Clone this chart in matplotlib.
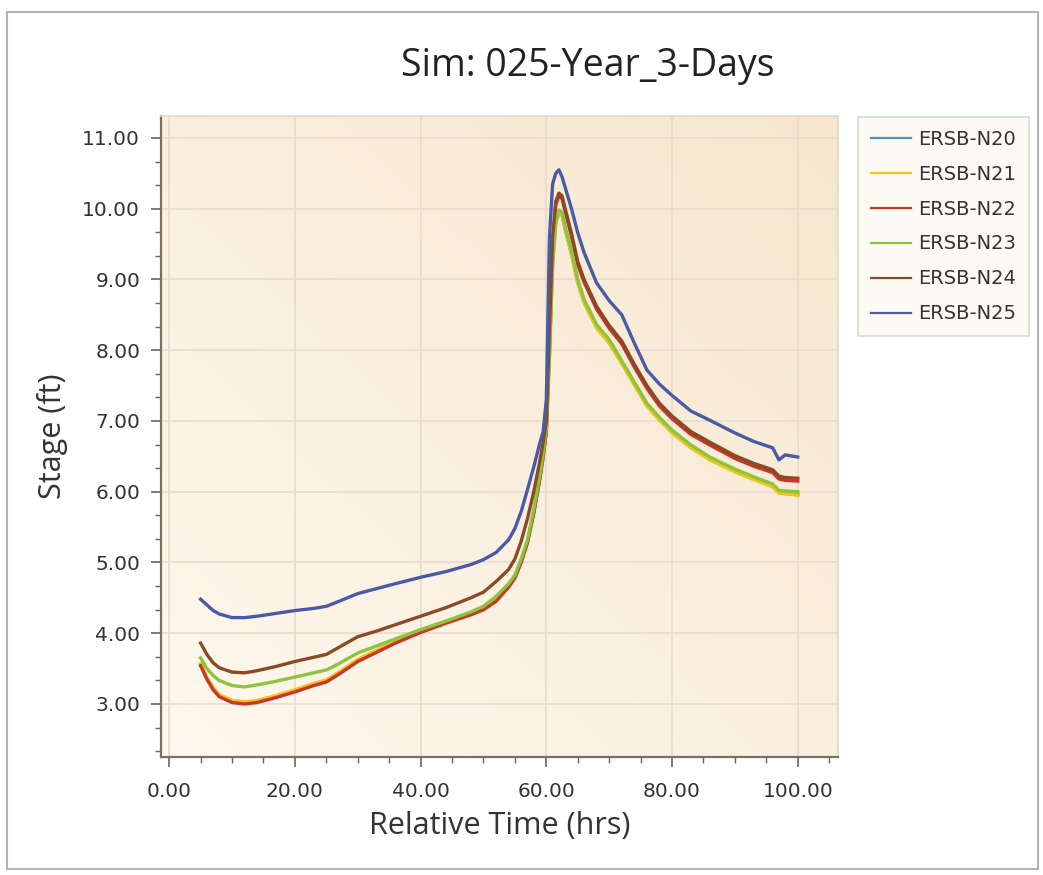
import numpy as np
import matplotlib.pyplot as plt
from matplotlib.patches import Rectangle
from matplotlib.ticker import MultipleLocator, FormatStrFormatter

# Time axis (hrs)
time_hrs = [5, 6, 7, 8, 10, 12, 14, 17, 20, 23, 25, 27, 30, 33, 36, 40, 44, 48,
            50, 52, 54, 55, 56, 57, 58, 59, 59.5, 60, 60.5, 61, 61.5, 62, 62.5,
            63, 64, 65, 66, 68, 70, 72, 74, 76, 78, 80, 83, 86, 90, 93, 96, 97,
            98, 100]

# Stage (ft) per node
n20 = [3.56, 3.37, 3.22, 3.12, 3.04, 3.02, 3.04, 3.11, 3.19, 3.28, 3.33, 3.44,
       3.62, 3.75, 3.88, 4.03, 4.16, 4.28, 4.35, 4.47, 4.66, 4.79, 5.01, 5.29,
       5.70, 6.20, 6.50, 6.84, 7.90, 9.20, 9.80, 9.94, 9.91, 9.71, 9.36, 8.96,
       8.68, 8.32, 8.11, 7.82, 7.52, 7.22, 7.02, 6.84, 6.63, 6.46, 6.29, 6.18,
       6.08, 5.99, 5.98, 5.96]
n21 = [3.57, 3.38, 3.23, 3.13, 3.05, 3.03, 3.05, 3.12, 3.20, 3.29, 3.34, 3.45,
       3.63, 3.76, 3.89, 4.04, 4.17, 4.29, 4.36, 4.48, 4.67, 4.80, 5.02, 5.30,
       5.72, 6.22, 6.52, 6.86, 7.95, 9.25, 9.82, 9.95, 9.91, 9.71, 9.35, 8.95,
       8.67, 8.31, 8.10, 7.81, 7.51, 7.21, 7.01, 6.83, 6.62, 6.45, 6.28, 6.17,
       6.07, 5.98, 5.97, 5.95]
n22 = [3.54, 3.35, 3.20, 3.10, 3.02, 3.00, 3.02, 3.09, 3.17, 3.26, 3.31, 3.42,
       3.60, 3.73, 3.86, 4.01, 4.14, 4.26, 4.33, 4.45, 4.65, 4.78, 5.00, 5.28,
       5.70, 6.20, 6.50, 6.85, 8.10, 9.50, 10.05, 10.18, 10.14, 9.96, 9.61,
       9.21, 8.96, 8.58, 8.31, 8.09, 7.76, 7.46, 7.21, 7.03, 6.81, 6.66, 6.47,
       6.36, 6.27, 6.18, 6.16, 6.15]
n23 = [3.65, 3.50, 3.40, 3.33, 3.26, 3.24, 3.27, 3.32, 3.38, 3.44, 3.48, 3.57,
       3.72, 3.82, 3.92, 4.05, 4.17, 4.30, 4.38, 4.52, 4.70, 4.82, 5.05, 5.32,
       5.75, 6.25, 6.55, 6.90, 8.00, 9.30, 9.85, 9.98, 9.95, 9.75, 9.40, 9.00,
       8.72, 8.36, 8.15, 7.85, 7.55, 7.25, 7.05, 6.87, 6.66, 6.49, 6.32, 6.21,
       6.11, 6.02, 6.01, 6.00]
n24 = [3.86, 3.70, 3.58, 3.51, 3.45, 3.44, 3.47, 3.53, 3.60, 3.66, 3.70, 3.80,
       3.95, 4.03, 4.12, 4.24, 4.36, 4.50, 4.58, 4.73, 4.90, 5.05, 5.30, 5.62,
       6.00, 6.45, 6.70, 7.00, 8.30, 9.60, 10.10, 10.22, 10.18, 10.00, 9.65,
       9.25, 9.00, 8.62, 8.35, 8.13, 7.80, 7.50, 7.25, 7.07, 6.85, 6.70, 6.51,
       6.40, 6.31, 6.22, 6.20, 6.19]
n25 = [4.48, 4.40, 4.32, 4.27, 4.22, 4.22, 4.24, 4.28, 4.32, 4.35, 4.38, 4.45,
       4.56, 4.63, 4.70, 4.79, 4.87, 4.97, 5.04, 5.14, 5.32, 5.48, 5.72, 6.03,
       6.35, 6.70, 6.85, 7.30, 9.60, 10.35, 10.50, 10.55, 10.45, 10.30, 10.00,
       9.66, 9.38, 8.95, 8.70, 8.50, 8.10, 7.72, 7.52, 7.36, 7.14, 7.01, 6.83,
       6.71, 6.62, 6.45, 6.52, 6.49]

series = {
    "ERSB-N20": (n20, "#4f93b8"),
    "ERSB-N21": (n21, "#f2c418"),
    "ERSB-N22": (n22, "#c8362a"),
    "ERSB-N23": (n23, "#8cc43c"),
    "ERSB-N24": (n24, "#8a4a26"),
    "ERSB-N25": (n25, "#4a5aa6"),
}

W, H = 1043, 875
fig = plt.figure(figsize=(W / 100, H / 100), dpi=100)
fig.patch.set_facecolor("white")

# screenshot frame
fig.add_artist(Rectangle((7 / W, 6 / H), 1031 / W, 857 / H, transform=fig.transFigure,
                         fill=False, edgecolor="#b4b4b4", lw=1.5))

ax = fig.add_axes([161 / W, 1 - 757 / H, (838 - 161) / W, (757 - 116) / H])
xlim = (-1.3, 106.4)
ylim = (2.25, 11.31)

# cream gradient background
gx, gy = np.meshgrid(np.linspace(0, 1, 200), np.linspace(0, 1, 200))
t = (gx + (1 - gy)) / 2
c0 = np.array([0.996, 0.973, 0.933])
c1 = np.array([0.965, 0.902, 0.808])
img = c0[None, None, :] * (1 - t[..., None]) + c1[None, None, :] * t[..., None]
ax.imshow(img, extent=(*xlim, *ylim), aspect="auto", origin="upper", zorder=0)

for name, (vals, col) in series.items():
    ax.plot(time_hrs, vals, color=col, lw=2.4, label=name, zorder=3)

ax.set_xlim(*xlim)
ax.set_ylim(*ylim)

ax.xaxis.set_major_locator(MultipleLocator(20))
ax.xaxis.set_minor_locator(MultipleLocator(5))
ax.yaxis.set_major_locator(MultipleLocator(1))
ax.yaxis.set_minor_locator(MultipleLocator(1 / 3))
ax.xaxis.set_major_formatter(FormatStrFormatter("%.2f"))
ax.yaxis.set_major_formatter(FormatStrFormatter("%.2f"))

ax.grid(which="major", color="#e7dccb", lw=1.2, zorder=1)
ax.set_axisbelow(True)

for s in ["left", "bottom"]:
    ax.spines[s].set_color("#7b7060")
    ax.spines[s].set_linewidth(1.6)
for s in ["top", "right"]:
    ax.spines[s].set_color("#e2d8c6")
    ax.spines[s].set_linewidth(1.2)

ax.tick_params(which="major", length=7, width=1.2, color="#6e6456",
               labelsize=14.5, labelcolor="#333333", pad=8)
ax.tick_params(axis="x", which="major", pad=11)
ax.tick_params(which="minor", length=4, width=1.0, color="#6e6456")
ax.tick_params(axis="x", which="both", top=False)
ax.tick_params(axis="y", which="both", right=False)

ax.set_xlabel("Relative Time (hrs)", fontsize=22, family="Open Sans",
              color="#333333", labelpad=7)
ax.set_ylabel("Stage (ft)", fontsize=22, family="Open Sans",
              color="#333333", labelpad=10)

fig.text(588 / W, 1 - 66 / H, "Sim: 025-Year_3-Days", ha="center", va="center",
         fontsize=27, family="Open Sans", color="#222222")

leg = fig.legend(loc="upper left", bbox_to_anchor=(858 / W, 1 - 117 / H),
                 bbox_transform=fig.transFigure, fontsize=14, frameon=True,
                 fancybox=False, borderaxespad=0, labelspacing=0.82,
                 handlelength=2.1, handletextpad=0.35, borderpad=0.65)
leg.get_frame().set_edgecolor("#cfcfcf")
leg.get_frame().set_facecolor("#fdf9f1")
leg.get_frame().set_linewidth(1.2)
for line in leg.get_lines():
    line.set_linewidth(1.6)
for txt in leg.get_texts():
    txt.set_color("#333333")

fig.savefig("out.png", dpi=100)
